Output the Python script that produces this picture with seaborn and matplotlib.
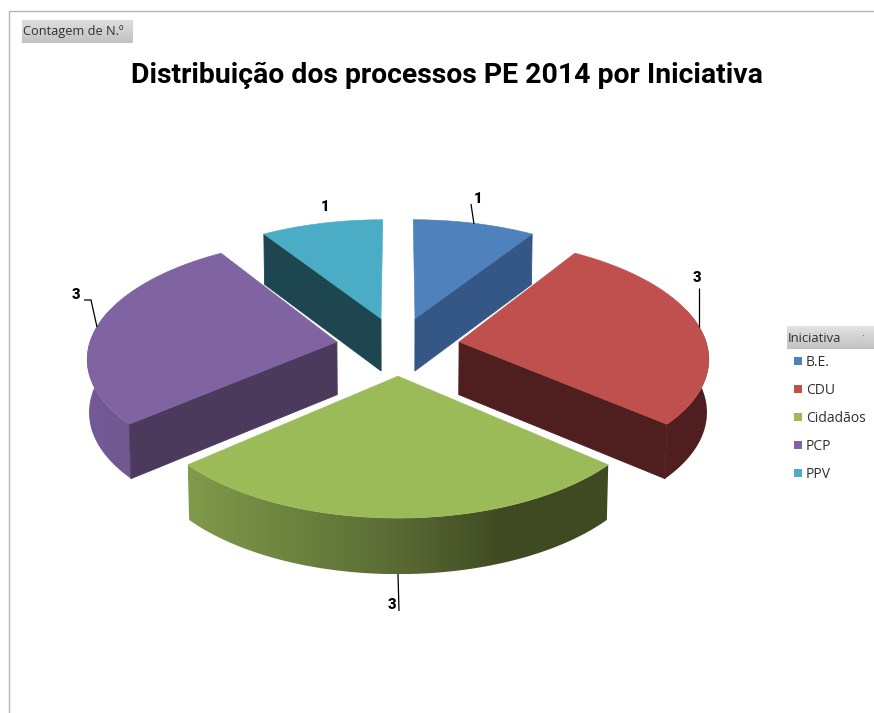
import numpy as np
import seaborn as sns
import matplotlib.pyplot as plt
from matplotlib.colors import to_rgb
from matplotlib.patches import Polygon

# dados do grafico
categorias = ['B.E.', 'CDU', 'Cidadãos', 'PCP', 'PPV']
contagens = [1, 3, 3, 3, 1]
titulo = 'Distribuição dos processos PE 2014 por Iniciativa'
nome_campo = 'Contagem de N.º'
nome_legenda = 'Iniciativa'

# cores: topo, parede radial, parede curva (lista de cores da esquerda para a direita)
cor_topo = ['#4f81bd', '#c0504d', '#9bbb59', '#8064a2', '#4bacc6']
cor_lado = ['#345785', '#4f1f20', '#5c6d35', '#4b3a5c', '#1d4650']
cor_curva = [['#345785'] * 2, ['#4f1f20'] * 2,
             ['#80994a', '#6c833f', '#5a6a35', '#3f4a22', '#3f4a22'],
             ['#735a95', '#6c5489'], ['#1d4650'] * 2]

# geometria da pizza 3D em pixels
CX, CY = 398, 346
RX, RY = 248, 117
PERSP = 0.12
ALTURA = 53
EXPLODE = 0.25

sns.set_theme(style='white')
plt.rcParams['font.family'] = ['Open Sans', 'DejaVu Sans']

fig, ax = plt.subplots(figsize=(8.74, 7.13), dpi=100)
ax.set_position([0, 0, 1, 1])
ax.set_axis_off()


def projeta(u, v, z=0.0):
    # u direita, v para o fundo, z para baixo (0 a 1)
    w = 1 + PERSP * v + 0.006 * z
    return CX + RX * u / w, CY - RY * v / w + ALTURA * z / np.sqrt(w)


def aresta(ini, fim, meio, z=0.0, n=120):
    t = np.linspace(ini, fim, n)
    ox, oy = EXPLODE * np.sin(meio), EXPLODE * np.cos(meio)
    return projeta(ox + np.sin(t), oy + np.cos(t), z)


def gradiente(x0, x1, y0, y1, cores, horizontal=False, ordem=1):
    cores = np.array([to_rgb(c) for c in cores])
    pos = np.linspace(0, 1, len(cores))
    g = np.linspace(0, 1, 64)
    img = np.stack([np.interp(g, pos, cores[:, c]) for c in range(3)], axis=-1)
    img = img[None, :, :] if horizontal else img[:, None, :]
    return ax.imshow(img, extent=(x0, x1, y1, y0), aspect='auto', zorder=ordem, interpolation='bilinear')


# angulos saem das contagens, sentido horario a partir do topo
fracoes = np.array(contagens) / sum(contagens)
limites = np.concatenate([[0], np.cumsum(fracoes)]) * 2 * np.pi

# ordem de desenho: do fundo para a frente
ordem = 2
for i in [4, 0, 3, 1, 2]:
    ini, fim = limites[i], limites[i + 1]
    meio = (ini + fim) / 2
    ox, oy = EXPLODE * np.sin(meio), EXPLODE * np.cos(meio)
    ax_, ay_ = projeta(ox, oy)
    bx_, by_ = projeta(ox, oy, 1)
    xt, yt = aresta(ini, fim, meio)
    xb, yb = aresta(ini, fim, meio, 1)

    # parede curva, a parte de tras fica escondida pelo topo
    t = np.linspace(ini, fim, len(xt))
    vis = np.cos(t) <= 0.3
    if vis.any():
        contorno = list(zip(xt[vis], yt[vis])) + list(zip(xb[vis][::-1], yb[vis][::-1]))
        recorte = Polygon(contorno, closed=True, transform=ax.transData)
        parede = gradiente(min(xt.min(), xb.min()), max(xt.max(), xb.max()),
                           min(yt.min(), yb.min()), max(yt.max(), yb.max()),
                           cor_curva[i], horizontal=True, ordem=ordem)
        parede.set_clip_path(recorte)

    # paredes radiais viradas para a frente
    if np.sin(ini) < 0:
        pts = [(ax_, ay_), (xt[0], yt[0]), (xb[0], yb[0]), (bx_, by_)]
        ax.add_patch(Polygon(pts, closed=True, fc=cor_lado[i], ec=cor_lado[i], lw=0.6, zorder=ordem + 0.1))
    if np.sin(fim) > 0:
        pts = [(ax_, ay_), (xt[-1], yt[-1]), (xb[-1], yb[-1]), (bx_, by_)]
        ax.add_patch(Polygon(pts, closed=True, fc=cor_lado[i], ec=cor_lado[i], lw=0.6, zorder=ordem + 0.1))

    # topo
    pts = [(ax_, ay_)] + list(zip(xt, yt))
    ax.add_patch(Polygon(pts, closed=True, fc=cor_topo[i], ec=cor_topo[i], lw=0.4, zorder=ordem + 0.2))
    ordem += 1

# rotulos de dados com linhas de chamada
pos_rotulo = [(478, 199), (697, 278), (392, 605), (76, 295), (325, 207)]
linhas = [[(474, 224), (471, 204)], [(699, 327), (699, 288)], [(398, 574), (399, 611)],
          [(97, 327), (91, 300), (84, 300)], None]
for n, pos, lin in zip(contagens, pos_rotulo, linhas):
    if lin:
        ax.plot(*zip(*lin), color='black', lw=0.9, zorder=20, solid_capstyle='butt')
    ax.text(pos[0], pos[1], str(n), ha='center', va='center', fontsize=10.5,
            fontweight='black', color='black', zorder=21, family=['Roboto', 'DejaVu Sans'])

# moldura
ax.plot([874, 8.5, 8.5], [10.5, 10.5, 713], color='#b4b4b4', lw=1.0, zorder=1)

# botao do campo
gradiente(22, 133, 20, 43, ['#dedede', '#c2c2c2'], ordem=1)
ax.text(23, 32, nome_campo, ha='left', va='center', fontsize=9.2, color='#303030', zorder=21)

ax.text(447, 75, titulo, ha='center', va='center', fontsize=20.4, fontweight='bold',
        color='black', zorder=21, family=['Roboto', 'DejaVu Sans'])

# legenda
gradiente(787, 874, 326, 349, ['#e2e2e2', '#c2c2c2'], ordem=1)
ax.text(788, 338, nome_legenda, ha='left', va='center', fontsize=9.4, color='#303030', zorder=21)
ax.text(863, 337, '·', ha='center', va='center', fontsize=7, color='#606060', zorder=21)
for i, nome in enumerate(categorias):
    y = 361 + 28 * i
    ax.scatter([798], [y], marker='s', s=34, color=cor_topo[i], linewidths=0, zorder=21)
    ax.text(806, y + 1, nome, ha='left', va='center', fontsize=10, color='#303030', zorder=21)

ax.set_xlim(0, 874)
ax.set_ylim(713, 0)
fig.savefig('out.png', dpi=100)
